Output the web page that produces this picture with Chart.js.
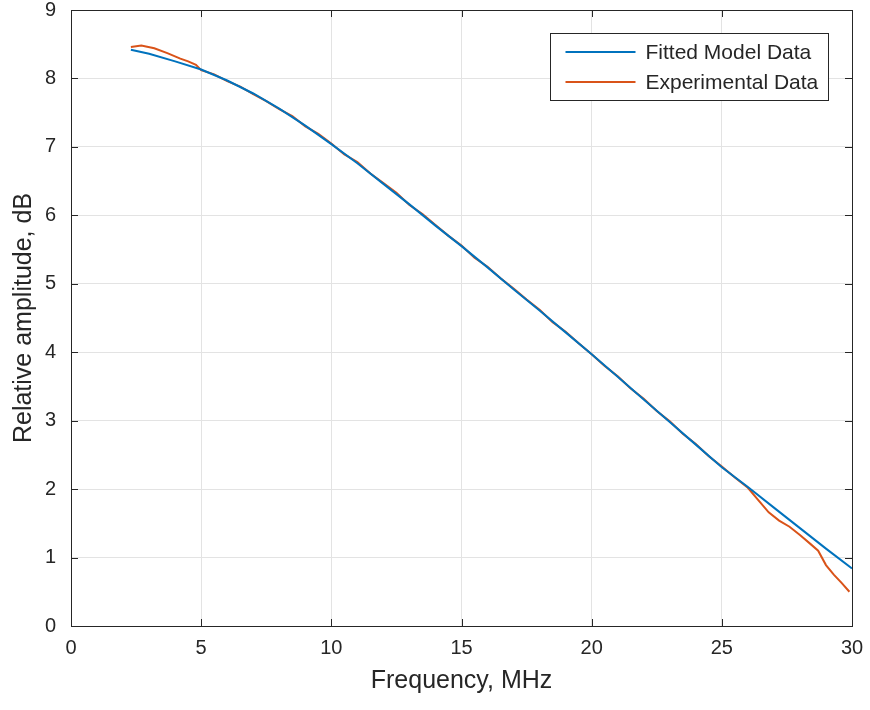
<!DOCTYPE html>
<html>
<head>
<meta charset="utf-8">
<script src="https://cdn.jsdelivr.net/npm/chart.js@4.4.1/dist/chart.umd.min.js"></script>
<style>
    html, body { margin: 0; padding: 0; background: #ffffff; }
    #wrap { width: 870px; height: 710px; }
</style>
</head>
<body>
<div id="wrap"><canvas id="ampChart" width="870" height="710"></canvas></div>
<script>
// Fitted model curve
const fittedFreq = [2.3, 3, 4, 5, 6, 7, 8, 9, 10, 11, 12, 13, 14, 15, 16, 17, 18, 19, 20, 21, 22, 23, 24, 25, 26, 27, 28, 29, 30];
const fittedAmp = [8.42, 8.36, 8.25, 8.13, 7.97, 7.78, 7.56, 7.31, 7.04, 6.76, 6.46, 6.16, 5.85, 5.55, 5.24, 4.92, 4.61, 4.29, 3.97, 3.64, 3.31, 2.98, 2.65, 2.32, 2.03, 1.73, 1.43, 1.13, 0.84];

// Measured curve
const expFreq = [2.3, 2.7, 3.2, 3.7, 4.2, 4.5, 4.8, 5.0,
    5.5, 6.0, 6.5, 7.0, 7.5, 8.0, 8.5, 9.0, 9.5, 10.0,
    10.5, 11.0, 11.5, 12.0, 12.5, 13.0, 13.5, 14.0, 14.5, 15.0,
    15.5, 16.0, 16.5, 17.0, 17.5, 18.0, 18.5, 19.0, 19.5, 20.0,
    20.5, 21.0, 21.5, 22.0, 22.5, 23.0, 23.5, 24.0, 24.5, 25.0,
    25.5, 26.0, 26.4, 26.8, 27.2, 27.6, 28.0, 28.4, 28.7, 29.0, 29.3, 29.6, 29.9];
const expAmp = [8.46, 8.48, 8.44, 8.37, 8.29, 8.25, 8.20, 8.12,
    8.06, 7.96, 7.88, 7.77, 7.67, 7.55, 7.45, 7.30, 7.19, 7.05,
    6.89, 6.78, 6.61, 6.47, 6.33, 6.15, 6.02, 5.86, 5.70, 5.56,
    5.38, 5.25, 5.08, 4.93, 4.77, 4.62, 4.44, 4.30, 4.13, 3.97,
    3.80, 3.65, 3.47, 3.32, 3.14, 2.99, 2.81, 2.66, 2.48, 2.33,
    2.17, 2.02, 1.84, 1.66, 1.54, 1.45, 1.33, 1.20, 1.10, 0.89, 0.75, 0.63, 0.50];

const seriesNames = ["Fitted Model Data", "Experimental Data"];
const xTicks = [0, 5, 10, 15, 20, 25, 30];
const yTicks = [0, 1, 2, 3, 4, 5, 6, 7, 8, 9];
const xTitle = "Frequency, MHz";
const yTitle = "Relative amplitude, dB";

(function () {
    "use strict";

    const ink = "#262626";
    const fontFamily = "'Liberation Sans', Arial, Helvetica, sans-serif";

    const toPoints = (xs, ys) => xs.map((x, i) => ({ x: x, y: ys[i] }));

    // box + inward tick marks, like matlab's "box on"
    const framePlugin = {
        id: "frame",
        afterDraw(chart) {
            const { ctx, chartArea: a, scales } = chart;
            const len = 7;
            ctx.save();
            ctx.strokeStyle = ink;
            ctx.lineWidth = 1;
            ctx.beginPath();
            xTicks.forEach((v) => {
                const px = Math.round(scales.x.getPixelForValue(v)) + 0.5;
                ctx.moveTo(px, a.bottom); ctx.lineTo(px, a.bottom - len);
                ctx.moveTo(px, a.top); ctx.lineTo(px, a.top + len);
            });
            yTicks.forEach((v) => {
                const py = Math.round(scales.y.getPixelForValue(v)) + 0.5;
                ctx.moveTo(a.left, py); ctx.lineTo(a.left + len, py);
                ctx.moveTo(a.right, py); ctx.lineTo(a.right - len, py);
            });
            ctx.stroke();
            ctx.strokeRect(Math.round(a.left) + 0.5, Math.round(a.top) + 0.5,
                Math.round(a.right - a.left), Math.round(a.bottom - a.top));
            ctx.restore();
        },
    };

    // legend box in the upper right corner of the axes
    const legendPlugin = {
        id: "boxLegend",
        afterDraw(chart) {
            const { ctx, chartArea: a } = chart;
            const w = 278, h = 67;
            const x0 = Math.round(a.right - 24 - w) + 0.5;
            const y0 = Math.round(a.top + 23) + 0.5;
            ctx.save();
            ctx.fillStyle = "#ffffff";
            ctx.fillRect(x0, y0, w, h);
            ctx.strokeStyle = ink;
            ctx.lineWidth = 1;
            ctx.strokeRect(x0, y0, w, h);
            ctx.font = "21px " + fontFamily;
            ctx.textBaseline = "middle";
            ctx.fillStyle = ink;
            chart.data.datasets.forEach((ds, i) => {
                const ly = y0 + 18.5 + i * 30;
                ctx.strokeStyle = ds.borderColor;
                ctx.lineWidth = 2;
                ctx.beginPath();
                ctx.moveTo(x0 + 15, ly);
                ctx.lineTo(x0 + 85, ly);
                ctx.stroke();
                ctx.fillText(ds.label, x0 + 95, ly + 1);
            });
            ctx.restore();
        },
    };

    const ctx = document.getElementById("ampChart").getContext("2d");

    new Chart(ctx, {
        type: "line",
        data: {
            datasets: [
                {
                    label: seriesNames[0],
                    data: toPoints(fittedFreq, fittedAmp),
                    borderColor: "#0072BD",
                    borderWidth: 2,
                    pointRadius: 0,
                    tension: 0,
                },
                {
                    label: seriesNames[1],
                    data: toPoints(expFreq, expAmp),
                    borderColor: "#D95319",
                    borderWidth: 2,
                    pointRadius: 0,
                    tension: 0,
                },
            ],
        },
        options: {
            responsive: false,
            animation: false,
            layout: {
                padding: { top: 10, right: 18, left: 0, bottom: 0 },
            },
            plugins: {
                legend: { display: false },
                tooltip: { enabled: false },
            },
            scales: {
                x: {
                    type: "linear",
                    min: 0,
                    max: 30,
                    afterFit: (scale) => {
                        scale.height = 84;
                        scale.paddingLeft = 0;
                        scale.paddingRight = 0;
                    },
                    afterBuildTicks: (scale) => {
                        scale.ticks = xTicks.map((v) => ({ value: v }));
                    },
                    ticks: {
                        color: ink,
                        padding: 10,
                        maxRotation: 0,
                        font: { family: fontFamily, size: 20 },
                    },
                    grid: {
                        color: "#e3e3e3",
                        drawTicks: false,
                    },
                    border: { display: false },
                    title: {
                        display: true,
                        text: xTitle,
                        color: ink,
                        padding: { top: 0, bottom: 14 },
                        font: { family: fontFamily, size: 25 },
                    },
                },
                y: {
                    type: "linear",
                    min: 0,
                    max: 9,
                    afterFit: (scale) => {
                        scale.width = 71;
                        scale.paddingTop = 0;
                        scale.paddingBottom = 0;
                    },
                    afterBuildTicks: (scale) => {
                        scale.ticks = yTicks.map((v) => ({ value: v }));
                    },
                    ticks: {
                        color: ink,
                        padding: 15,
                        font: { family: fontFamily, size: 20 },
                    },
                    grid: {
                        color: "#e3e3e3",
                        drawTicks: false,
                    },
                    border: { display: false },
                    title: {
                        display: true,
                        text: yTitle,
                        color: ink,
                        padding: { top: 9, bottom: 0 },
                        font: { family: fontFamily, size: 25 },
                    },
                },
            },
        },
        plugins: [framePlugin, legendPlugin],
    });
})();
</script>
</body>
</html>
